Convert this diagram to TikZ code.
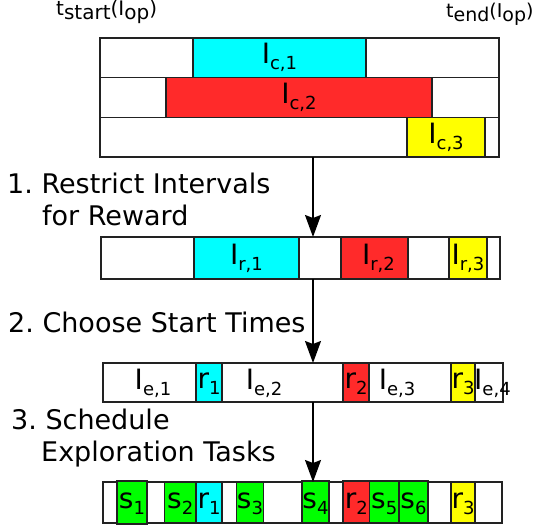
\documentclass[tikz,border=0pt]{standalone}
\usepackage{fontspec}
\setmainfont{DejaVu Sans}
\usetikzlibrary{arrows.meta}
\definecolor{icyan}{HTML}{00FFFF}
\definecolor{ired}{HTML}{FF2A2A}
\definecolor{iyellow}{HTML}{FFFF00}
\definecolor{igreen}{HTML}{00FF00}
\definecolor{edge}{HTML}{222222}
\frenchspacing
% interval label: big letter with a lowered, smaller index
\newcommand\ilbl[2]{#1\raisebox{-6pt}{\fontsize{18}{18}\selectfont #2}}
% time label: index lowered, same size
\newcommand\tlbl[2]{#1\raisebox{-4pt}{#2}}
% a box from (x1,y1) to (x2,y2): name, x1, y1, x2, y2, fill
\newcommand\slot[6]{%
  \node[bar, fill=#6, minimum width={(#4-#2)*1pt}, minimum height={(#5-#3)*1pt}]
    (#1) at ({(#2+#4)/2},{(#3+#5)/2}) {};}

\begin{document}
\begin{tikzpicture}[x=1pt, y=-1pt,
  bar/.style={draw=edge, line width=1.3pt, inner sep=0pt, outer sep=0pt},
  lab/.style={inner sep=0pt, text height=20pt, text depth=8pt,
    font=\fontsize{28}{28}\selectfont},
  steptext/.style={anchor=base west, inner sep=0pt, font=\fontsize{27}{32}\selectfont},
  timetext/.style={anchor=base west, inner sep=0pt, font=\fontsize{19}{19}\selectfont},
  arr/.style={draw=black, line width=1.5pt, -{Stealth[length=22pt, width=16pt, inset=3pt]}}]
\useasboundingbox (0,0) rectangle (535,527);

% time labels
\node[timetext, font=\fontsize{20}{20}\selectfont] (tstart) at (56,16) {\tlbl{t}{start}(\tlbl{I}{op})};
\node[timetext] (tend) at (446,18) {\tlbl{t}{end}(\tlbl{I}{op})};

% candidate intervals
\slot{row1}{100}{38}{499}{77.7}{white}
\slot{row2}{100}{77.7}{499}{117.3}{white}
\slot{row3}{100}{117.3}{499}{157}{white}
\slot{c1}{193}{38}{366}{77.7}{icyan}
\slot{c2}{166}{77.7}{432}{117.3}{ired}
\slot{c3}{407}{117.3}{485}{157}{iyellow}
\node[lab] (lc1) at (c1.center) {\ilbl{I}{c,1}};
\node[lab] (lc2) at (c2.center) {\ilbl{I}{c,2}};
\node[lab] (lc3) at (c3.center) {\ilbl{I}{c,3}};

% restricted reward intervals
\slot{rrow}{101}{237}{500}{279}{white}
\slot{r1}{194}{237}{299}{279}{icyan}
\slot{r2}{341}{237}{408}{279}{ired}
\slot{r3}{449}{237}{487}{279}{iyellow}
\node[lab] (lr1) at (r1.center) {\ilbl{I}{r,1}};
\node[lab] (lr2) at ([xshift=4pt]r2.center) {\ilbl{I}{r,2}};
\node[lab] (lr3) at (r3.center) {\ilbl{I}{r,3}};

% chosen start times and exploration intervals
\slot{erow}{103}{363}{503}{402}{white}
\slot{e1}{196}{363}{222}{402}{icyan}
\slot{e2}{343}{363}{369}{402}{ired}
\slot{e3}{451}{363}{475}{402}{iyellow}
\node[lab] (le1) at (e1.center) {\ilbl{r}{1}};
\node[lab] (le2) at (e2.center) {\ilbl{r}{2}};
\node[lab] (le3) at (e3.center) {\ilbl{r}{3}};
\node[lab] (ie1) at (153,383) {\ilbl{I}{e,1}};
\node[lab] (ie2) at (264,383) {\ilbl{I}{e,2}};
\node[lab] (ie3) at (397,383) {\ilbl{I}{e,3}};
\node[lab, anchor=west] (ie4) at (474,383) {\ilbl{I}{e,4}};

% scheduled exploration tasks
\slot{srow}{103}{482}{502}{523}{white}
\slot{s1}{117}{481}{147}{524}{igreen}
\slot{s2}{164.5}{482}{196}{523}{igreen}
\slot{q1}{196}{482}{222}{523}{icyan}
\slot{s3}{236.5}{482}{263.5}{523}{igreen}
\slot{s4}{302}{481}{329}{523}{igreen}
\slot{q2}{343}{481}{369.5}{523}{ired}
\slot{s5}{369.5}{481}{399}{523}{igreen}
\slot{s6}{399}{481}{428}{523}{igreen}
\slot{q3}{451}{482}{475}{523}{iyellow}
\node[lab] (ls1) at (s1.center) {\ilbl{s}{1}};
\node[lab] (ls2) at (s2.center) {\ilbl{s}{2}};
\node[lab] (lq1) at (q1.center) {\ilbl{r}{1}};
\node[lab] (ls3) at (s3.center) {\ilbl{s}{3}};
\node[lab] (ls4) at (s4.center) {\ilbl{s}{4}};
\node[lab] (lq2) at (q2.center) {\ilbl{r}{2}};
\node[lab] (ls5) at (s5.center) {\ilbl{s}{5}};
\node[lab] (ls6) at (s6.center) {\ilbl{s}{6}};
\node[lab] (lq3) at (q3.center) {\ilbl{r}{3}};

% step captions
\node[steptext] (step1a) at (7,193) {1. Restrict Intervals};
\node[steptext] (step1b) at (42,225) {for Reward};
\node[steptext] (step2) at (8,332) {2. Choose Start Times};
\node[steptext] (step3a) at (11,429) {3. Schedule};
\node[steptext] (step3b) at (41,461) {Exploration Tasks};

% flow arrows
\coordinate (ax) at (313,0);
\draw[arr] (row3.south -| ax) -- (rrow.north -| ax);
\draw[arr] (rrow.south -| ax) -- (erow.north -| ax);
\draw[arr] (erow.south -| ax) -- (srow.north -| ax);
\end{tikzpicture}
\end{document}
